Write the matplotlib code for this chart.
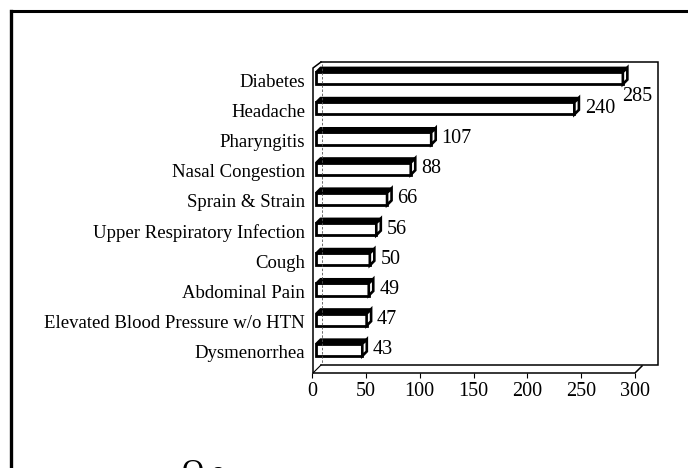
import matplotlib
matplotlib.use("Agg")
import matplotlib.pyplot as plt
from matplotlib.patches import Polygon
from matplotlib.lines import Line2D
from matplotlib.transforms import offset_copy

plt.rcParams["font.family"] = ["Liberation Serif", "DejaVu Serif"]

# Top 10 diagnoses by number of visits
diagnoses = [
    "Diabetes",
    "Headache",
    "Pharyngitis",
    "Nasal Congestion",
    "Sprain & Strain",
    "Upper Respiratory Infection",
    "Cough",
    "Abdominal Pain",
    "Elevated Blood Pressure w/o HTN",
    "Dysmenorrhea",
]
visits = [285, 240, 107, 88, 66, 56, 50, 49, 47, 43]
x_ticks = [0, 50, 100, 150, 200, 250, 300]

W, H = 688, 468
fig = plt.figure(figsize=(W / 100, H / 100), dpi=100)
fig.patch.set_facecolor("white")


def fx(x):
    return x / W


def fy(y):
    return 1 - y / H


def seg(points, lw=1.1, color="black", ls="-"):
    xs = [fx(p[0]) for p in points]
    ys = [fy(p[1]) for p in points]
    fig.add_artist(Line2D(xs, ys, transform=fig.transFigure, color=color,
                          lw=lw, ls=ls, solid_joinstyle="miter"))


# plot axes: x 0..300 spans the front floor edge
ax_l, ax_r, ax_t, ax_b = 312, 635, 62, 373
ax = fig.add_axes([fx(ax_l), fy(ax_b), fx(ax_r - ax_l), (ax_b - ax_t) / H])
ax.set_xlim(0, 300)
ax.set_ylim(9.7, -0.6)
ax.patch.set_visible(False)
for s in ax.spines.values():
    s.set_visible(False)

ax.set_xticks(x_ticks)
ax.set_xticklabels([str(t) for t in x_ticks], fontsize=14.5)
ax.tick_params(axis="x", direction="out", length=3.5, width=0.8, pad=3)
ax.set_yticks(range(len(diagnoses)))
ax.set_yticklabels(diagnoses, fontsize=13.5)
ax.tick_params(axis="y", length=0, pad=5)

# 3-D walls and floor of the chart box
seg([(321, 62), (658, 62), (658, 365), (321, 365)])
seg([(321, 62), (313, 68), (313, 373), (635, 373), (642, 366)])
seg([(313, 373), (321, 365)], lw=0.8)
seg([(322, 64), (322, 364)], lw=0.6, color="#555555", ls=(0, (3, 2)))

# outer page frame
seg([(11, 11), (688, 11)], lw=2.2)
seg([(11, 11), (11, 468)], lw=2.4)

# bars as prisms: front face, top face and side face
px_per_x = (ax_r - ax_l) / 300
px_per_y = (ax_b - ax_t) / 10.3
depth = 4.5
ddx = depth / px_per_x
ddy = depth / px_per_y
h = 0.40
shift = offset_copy(ax.transData, fig=fig, x=4, y=2, units="dots")

for i, v in enumerate(visits):
    top, bot = i - h / 2, i + h / 2
    ax.barh(i, v, height=h, left=0, color="white", edgecolor="black",
            linewidth=2.0, transform=shift, zorder=3)
    top_face = Polygon([(0, top), (v, top), (v + ddx, top - ddy), (ddx, top - ddy)],
                       closed=True, facecolor="black", edgecolor="black",
                       linewidth=1.4, transform=shift, zorder=4)
    side_face = Polygon([(v, top), (v + ddx, top - ddy), (v + ddx, bot - ddy), (v, bot)],
                        closed=True, facecolor="white", edgecolor="black",
                        linewidth=1.9, transform=shift, zorder=4)
    ax.add_patch(top_face)
    ax.add_patch(side_face)
    if v > 270:
        ax.annotate(str(v), xy=(v, i), xytext=(3, -16), textcoords="offset pixels",
                    ha="left", va="center", fontsize=14.5, annotation_clip=False)
    else:
        ax.annotate(str(v), xy=(v + ddx, i), xytext=(10, 2), textcoords="offset pixels",
                    ha="left", va="center", fontsize=14.5, annotation_clip=False)

# fragment of the following page text, cut by the lower edge
fig.text(fx(182), fy(459), "O", fontsize=22, ha="left", va="top")
fig.text(fx(211), fy(460), "e", fontsize=22, ha="left", va="top", fontweight="bold")

fig.savefig("out.png", dpi=100, facecolor="white")
